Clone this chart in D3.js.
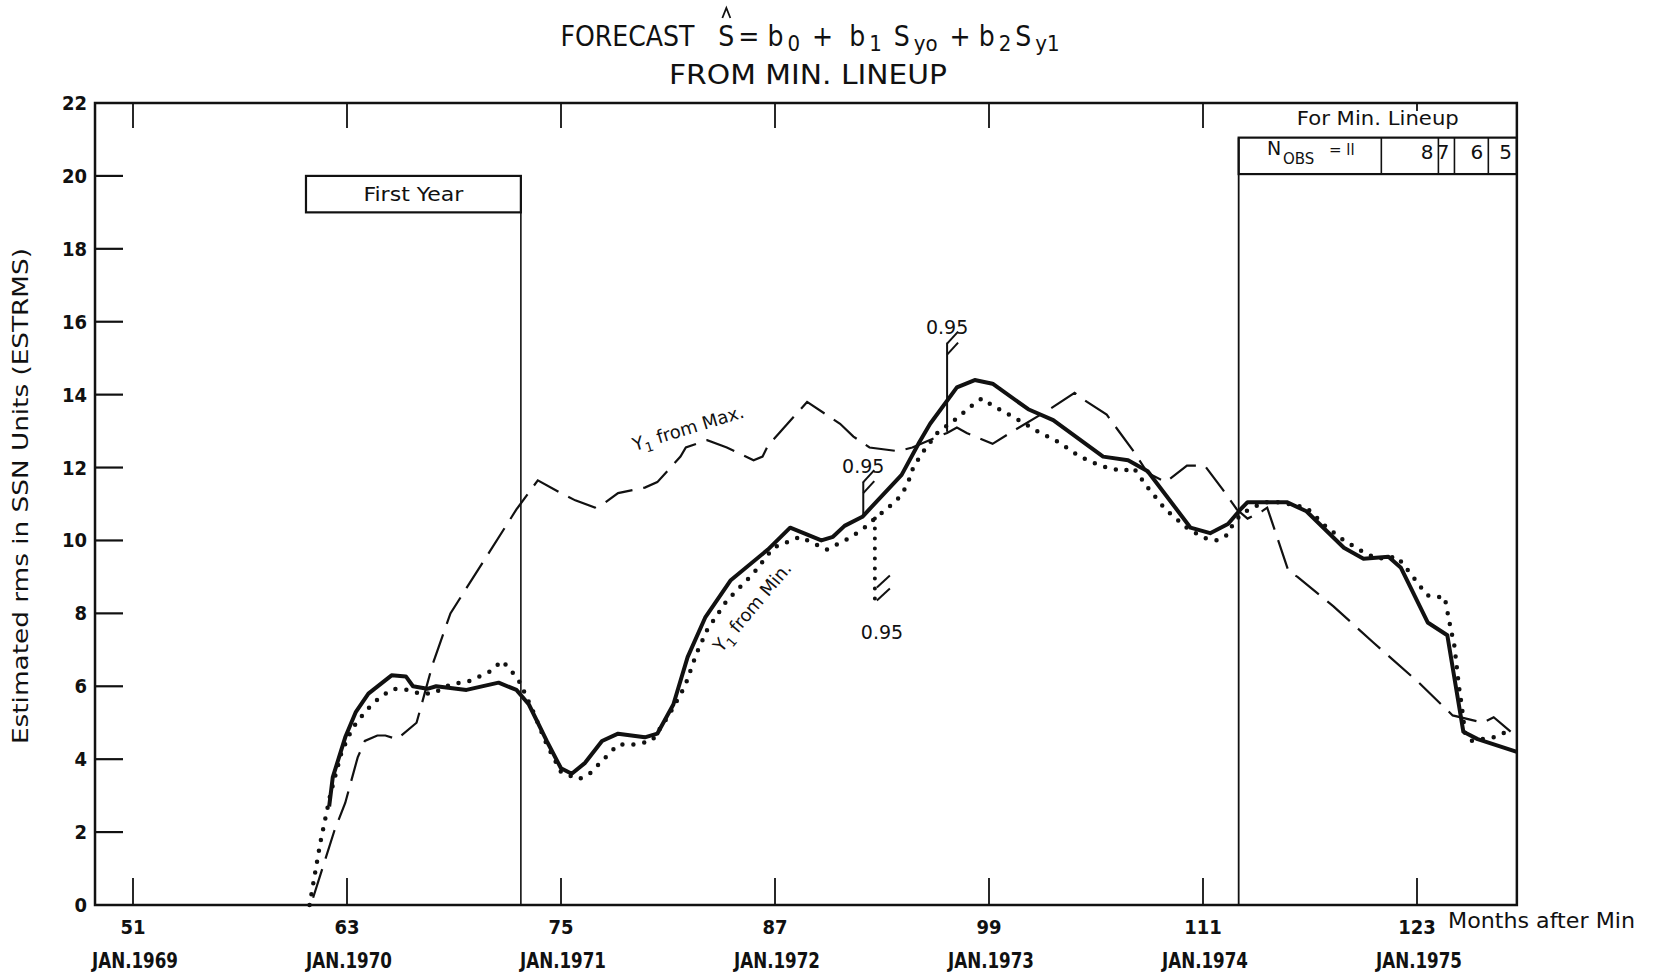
<!DOCTYPE html>
<html>
<head>
<meta charset="utf-8">
<script src="https://cdn.jsdelivr.net/npm/d3@7"></script>
<style>
body{margin:0;background:#fff}
svg text{fill:#111}
.num{font-family:"DejaVu Sans Condensed","Liberation Sans Narrow","Roboto",sans-serif;font-weight:bold}
.ttl{font-family:"DejaVu Sans Condensed","Liberation Sans Narrow","Roboto",sans-serif;font-weight:normal}
.lbl{font-family:"DejaVu Sans","Noto Sans",sans-serif}
</style>
</head>
<body>
<svg id="svg1" width="1655" height="978"></svg>
<script>
// months after minimum, and tick labels
var monthTicks=[51,63,75,87,99,111,123]
var yearLabels=["JAN.1969","JAN.1970","JAN.1971","JAN.1972","JAN.1973","JAN.1974","JAN.1975"]
var yTicks=[0,2,4,6,8,10,12,14,16,18,20,22]

// forecast S^ (solid)
var solidMonths=[62.0,62.2,62.9,63.5,64.2,65.5,66.3,66.7,67.5,68.0,69.7,71.5,72.5,73.2,74.2,75.0,75.6,76.35,77.3,78.2,79.7,80.4,81.3,82.1,83.1,84.5,86.6,87.85,89.6,90.25,90.9,91.9,94.1,95.1,95.7,97.2,98.2,99.2,101.2,102.6,105.4,106.8,107.9,110.3,111.4,112.4,113.1,113.5,115.7,116.8,118.9,120.0,121.4,122.1,123.6,124.7,125.6,126.4,128.6]
var solidVals=[2.7,3.5,4.6,5.3,5.8,6.3,6.27,6.0,5.93,6.0,5.9,6.1,5.9,5.5,4.5,3.75,3.6,3.9,4.5,4.7,4.6,4.7,5.5,6.8,7.9,8.9,9.75,10.35,10.0,10.1,10.4,10.65,11.8,12.7,13.2,14.2,14.4,14.3,13.6,13.3,12.3,12.2,11.9,10.35,10.2,10.45,10.85,11.05,11.05,10.8,9.8,9.5,9.55,9.25,7.75,7.4,4.75,4.55,4.2]

// Y1 from Min. (dotted)
var minMonths=[60.9,61.5,62.05,62.7,63.3,64.1,64.85,65.6,66.4,67.1,67.8,68.8,69.9,71.0,71.7,72.25,72.7,73.4,74.2,75.0,76.0,76.6,77.2,78.2,79.0,80.1,81.1,81.95,82.6,83.2,84.3,85.8,86.9,88.4,89.9,91.1,91.9,92.6,93.35,93.9,94.4,94.75,95.25,96.1,97.2,97.9,98.6,99.2,100.5,101.7,102.9,104.1,105.25,106.5,107.1,107.9,108.9,110.2,111.2,111.8,112.35,112.8,113.4,114.4,115.3,116.8,117.85,118.9,120.1,120.8,121.9,122.7,123.55,124.05,124.55,124.8,125.1,125.35,125.5,125.7,126.05,127.3,128.0]
var minVals=[0.0,1.7,3.0,4.2,4.85,5.35,5.7,5.93,5.9,5.8,5.8,6.05,6.15,6.4,6.7,6.4,6.1,5.35,4.4,3.65,3.45,3.6,3.9,4.4,4.4,4.5,5.25,6.0,6.9,7.55,8.35,9.1,9.8,10.1,9.75,10.05,10.3,10.6,10.9,11.15,11.5,12.0,12.4,12.95,13.35,13.65,13.9,13.7,13.35,13.0,12.7,12.3,12.05,11.9,12.0,11.45,10.85,10.3,10.05,10.0,10.15,10.55,10.8,11.05,11.05,10.9,10.4,10.0,9.65,9.5,9.55,9.05,8.5,8.45,8.45,7.8,7.1,6.0,5.5,4.7,4.5,4.6,4.75]

// Y1 from Max. (dashed)
var maxMonths=[61.1,62.3,62.9,63.6,64.0,64.7,65.15,65.8,66.9,67.1,67.8,68.8,72.5,73.7,75.0,75.8,76.9,77.5,78.2,79.7,80.4,81.7,82.0,83.2,84.3,85.8,86.3,86.6,88.8,90.65,91.4,92.3,93.9,94.7,96.65,97.2,97.75,99.2,100.35,102.4,103.8,104.5,105.6,107.1,107.9,108.9,110.1,111.1,112.1,112.9,113.5,114.3,114.6,115.8,116.3,118.3,120.55,123.1,125.0,126.7,127.3,128.5]
var maxVals=[0.2,2.05,2.8,4.05,4.5,4.65,4.65,4.55,5.0,5.35,6.6,8.0,10.85,11.65,11.3,11.1,10.9,11.05,11.3,11.45,11.6,12.3,12.55,12.75,12.55,12.2,12.3,12.6,13.8,13.2,12.85,12.55,12.45,12.55,12.95,13.1,12.95,12.65,13.0,13.6,14.05,13.8,13.45,12.45,11.85,11.6,12.05,12.05,11.4,10.85,10.6,10.8,10.9,9.15,9.0,8.2,7.2,6.1,5.2,5.0,5.15,4.65]

// 0.95 confidence markers: month, from, to, label position
var confMonths=[91.95,96.65,92.6]
var confFrom=[10.7,13.0,10.6]
var confTo=[11.6,15.4,8.35]
var confDotted=[false,false,true]
var confLabelMonth=[91.95,96.65,93.0]
var confLabelVal=[11.85,15.65,7.3]

// windows
var firstYear=[60.7,72.75]
var lineupStart=113.0
var lineupCells=[113.0,121.0,124.2,125.1,127.0,128.6]
var lineupLabels=["","8","7","6","5"]
var xLeft=48.87, xRight=128.6

// title pieces: text, subscript?
var titleParts=[["FORECAST",0],["  ",0],["S",0],["= b",0],["0",1],[" +  b",0],["1",1],[" S",0],["yo",1],[" + b",0],["2",1],["S",0],["y1",1]]

var svg=d3.select("#svg1")
var x=d3.scaleLinear().domain([51,123]).range([133,1417])
var y=d3.scaleLinear().domain([0,22]).range([905,103])

// frame
svg.append("rect")
    .attr("x",x(xLeft)).attr("y",y(22))
    .attr("width",x(xRight)-x(xLeft)).attr("height",y(0)-y(22))
    .attr("fill","none").attr("stroke","#111").attr("stroke-width",2.5)

// ticks
svg.selectAll("line.ltick").data(yTicks.filter(function(d){return d>0&&d<22}))
    .enter().append("line").attr("class","ltick")
    .attr("x1",x(xLeft)).attr("x2",x(xLeft)+28)
    .attr("y1",function(d){return y(d)}).attr("y2",function(d){return y(d)})
    .attr("stroke","#111").attr("stroke-width",2.2)
svg.selectAll("line.btick").data(monthTicks)
    .enter().append("line").attr("class","btick")
    .attr("x1",function(d){return x(d)}).attr("x2",function(d){return x(d)})
    .attr("y1",y(0)).attr("y2",y(0)-27)
    .attr("stroke","#111").attr("stroke-width",1.8)
svg.selectAll("line.ttick").data(monthTicks)
    .enter().append("line").attr("class","ttick")
    .attr("x1",function(d){return x(d)}).attr("x2",function(d){return x(d)})
    .attr("y1",y(22)).attr("y2",function(d){return y(22)+(d>120?8:25)})
    .attr("stroke","#111").attr("stroke-width",1.8)

// tick labels
svg.selectAll("text.ylab").data(yTicks)
    .enter().append("text").attr("class","ylab num")
    .attr("x",x(xLeft)-8).attr("y",function(d){return y(d)+7})
    .attr("text-anchor","end").attr("font-size",20)
    .text(function(d){return d})
svg.selectAll("text.mlab").data(monthTicks)
    .enter().append("text").attr("class","mlab num")
    .attr("x",function(d){return x(d)}).attr("y",934)
    .attr("text-anchor","middle").attr("font-size",20)
    .text(function(d){return d})
svg.selectAll("text.jlab").data(yearLabels)
    .enter().append("text").attr("class","jlab num")
    .attr("x",function(d,i){return x(monthTicks[i])+2}).attr("y",968)
    .attr("text-anchor","middle").attr("font-size",21)
    .attr("textLength",86).attr("lengthAdjust","spacingAndGlyphs")
    .text(function(d){return d})
svg.append("text").attr("class","lbl")
    .attr("x",1448).attr("y",928).attr("font-size",22)
    .attr("textLength",187).attr("lengthAdjust","spacingAndGlyphs")
    .text("Months after Min")

// axis title
svg.append("text").attr("class","lbl")
    .attr("transform","translate(28,496) rotate(-90)")
    .attr("text-anchor","middle").attr("font-size",21)
    .attr("textLength",496).attr("lengthAdjust","spacingAndGlyphs")
    .text("Estimated rms in SSN Units (ESTRMS)")

// title, laid out piece by piece
var tg=svg.append("g")
var cx=0, hatX=0
titleParts.forEach(function(p){
    var tt=tg.append("text").attr("class","ttl")
        .attr("x",cx).attr("y",p[1]?51:46)
        .attr("font-size",p[1]?22:28).attr("xml:space","preserve")
        .style("white-space","pre").text(p[0])
    var w=tt.node().getComputedTextLength()
    if(p[0]=="S"&&hatX==0) hatX=cx+w/2
    cx+=w+4
})
tg.attr("transform","translate("+(812-cx/2)+",0)")
tg.append("path")
    .attr("d","M"+(hatX-4)+",18 L"+hatX+",8 L"+(hatX+4)+",18")
    .attr("fill","none").attr("stroke","#111").attr("stroke-width",1.8)
svg.append("text").attr("class","ttl")
    .attr("x",808).attr("y",84).attr("text-anchor","middle").attr("font-size",27)
    .attr("textLength",278).attr("lengthAdjust","spacingAndGlyphs")
    .text("FROM  MIN.  LINEUP")

// First Year window
svg.append("rect")
    .attr("x",x(firstYear[0])).attr("y",y(20))
    .attr("width",x(firstYear[1])-x(firstYear[0])).attr("height",y(19)-y(20))
    .attr("fill","none").attr("stroke","#111").attr("stroke-width",2.2)
svg.append("line")
    .attr("x1",x(firstYear[1])).attr("x2",x(firstYear[1]))
    .attr("y1",y(19)).attr("y2",y(0))
    .attr("stroke","#111").attr("stroke-width",1.6)
svg.append("text").attr("class","lbl")
    .attr("x",(x(firstYear[0])+x(firstYear[1]))/2).attr("y",201)
    .attr("text-anchor","middle").attr("font-size",19)
    .attr("textLength",100).attr("lengthAdjust","spacingAndGlyphs")
    .text("First Year")

// Min. lineup window
svg.append("line")
    .attr("x1",x(lineupStart)).attr("x2",x(lineupStart))
    .attr("y1",y(21.05)).attr("y2",y(0))
    .attr("stroke","#111").attr("stroke-width",1.8)
svg.append("rect")
    .attr("x",x(lineupStart)).attr("y",y(21.05))
    .attr("width",x(xRight)-x(lineupStart)).attr("height",y(20.05)-y(21.05))
    .attr("fill","none").attr("stroke","#111").attr("stroke-width",2.2)
svg.selectAll("line.cell").data(lineupCells.slice(1,-1))
    .enter().append("line").attr("class","cell")
    .attr("x1",function(d){return x(d)}).attr("x2",function(d){return x(d)})
    .attr("y1",y(21.05)).attr("y2",y(20.05))
    .attr("stroke","#111").attr("stroke-width",1.6)
svg.selectAll("text.cell").data(lineupLabels.slice(1))
    .enter().append("text").attr("class","cell lbl")
    .attr("x",function(d,i){return x(lineupCells[i+2])-5}).attr("y",159)
    .attr("text-anchor","end").attr("font-size",20)
    .text(function(d){return d})
svg.append("text").attr("class","lbl")
    .attr("x",(x(lineupStart)+x(xRight))/2).attr("y",125)
    .attr("text-anchor","middle").attr("font-size",19)
    .attr("textLength",162).attr("lengthAdjust","spacingAndGlyphs")
    .text("For Min. Lineup")
svg.append("text").attr("class","lbl").attr("x",1267).attr("y",155).attr("font-size",19).text("N")
svg.append("text").attr("class","lbl").attr("x",1283).attr("y",164).attr("font-size",15).text("OBS")
svg.append("text").attr("class","lbl").attr("x",1329).attr("y",155).attr("font-size",15).text("= ll")

// series
function ln(ms,vs){
    return d3.line().x(function(d){return x(d[0])}).y(function(d){return y(d[1])})(d3.zip(ms,vs))
}
svg.append("path").attr("d",ln(maxMonths,maxVals))
    .attr("fill","none").attr("stroke","#111").attr("stroke-width",2.2)
    .attr("stroke-dasharray","30,11")
svg.append("path").attr("d",ln(minMonths,minVals))
    .attr("fill","none").attr("stroke","#111").attr("stroke-width",4.5)
    .attr("stroke-linecap","round").attr("stroke-dasharray","0,11")
svg.append("path").attr("d",ln(solidMonths,solidVals))
    .attr("fill","none").attr("stroke","#111").attr("stroke-width",4)
    .attr("stroke-linejoin","round")

// 0.95 markers
confMonths.forEach(function(m,i){
    var up=confTo[i]>confFrom[i]
    svg.append("line")
        .attr("x1",x(m)).attr("x2",x(m)).attr("y1",y(confFrom[i])).attr("y2",y(confTo[i]))
        .attr("stroke","#111").attr("stroke-width",confDotted[i]?4:2)
        .attr("stroke-linecap","round").attr("stroke-dasharray",confDotted[i]?"0,10":null)
    var yy=y(confTo[i])
    var offs=up?[0,11]:[0,-13]
    offs.forEach(function(o){
        svg.append("line")
            .attr("x1",x(m)+(up?0:2)).attr("x2",x(m)+(up?11:15))
            .attr("y1",yy+o).attr("y2",yy+o-12)
            .attr("stroke","#111").attr("stroke-width",2)
    })
    svg.append("text").attr("class","lbl")
        .attr("x",x(confLabelMonth[i])).attr("y",y(confLabelVal[i]))
        .attr("text-anchor","middle").attr("font-size",19).text("0.95")
})

// curve labels
var lm=svg.append("text").attr("class","lbl")
    .attr("transform","translate(690,434) rotate(-17)")
    .attr("text-anchor","middle").attr("font-size",18)
lm.append("tspan").text("Y")
lm.append("tspan").attr("dy",5).attr("font-size",13).text("1")
lm.append("tspan").attr("dy",-5).text(" from  Max.")
var ln2=svg.append("text").attr("class","lbl")
    .attr("transform","translate(757,611) rotate(-50)")
    .attr("text-anchor","middle").attr("font-size",18)
ln2.append("tspan").text("Y")
ln2.append("tspan").attr("dy",5).attr("font-size",13).text("1")
ln2.append("tspan").attr("dy",-5).text(" from  Min.")
</script>
</body>
</html>
